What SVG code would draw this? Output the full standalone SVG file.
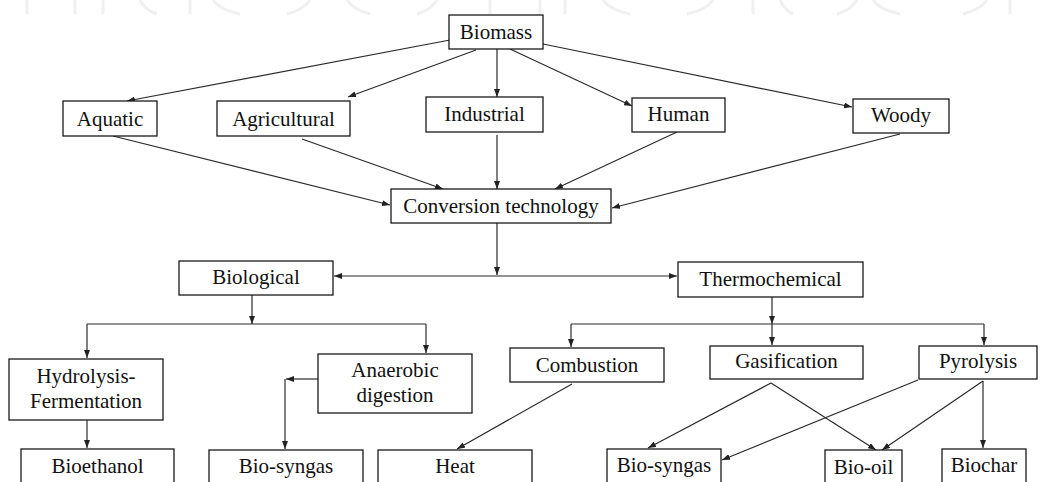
<svg xmlns="http://www.w3.org/2000/svg" width="1040" height="482" viewBox="0 0 1040 482">
<style>
.box{fill:#fff;stroke:#1a1a1a;stroke-width:1.3}
.lbl{font-size:21px;fill:#111;text-anchor:middle}
.c{fill:none;stroke:#2a2a2a;stroke-width:1.2}
.wm{fill:none;stroke:#f0f0f0;stroke-width:3}
</style>
<defs>
<marker id="ah" markerUnits="userSpaceOnUse" markerWidth="8" markerHeight="6" refX="8" refY="3" orient="auto">
<path d="M0,0 L8,3 L0,6 z" fill="#222"/>
</marker>
</defs>
<rect width="1040" height="482" fill="#fff"/>
<g id="watermark" class="wm">
<path d="M27,0V14M75,0V14M103,0V14M190,0V14M490,0V14M540,0V14M565,0V14M753,0V14M1010,0V14"/>
<path d="M140,0Q145,10 157,14M213,0Q220,10 240,14M347,0Q354,10 370,14M603,0Q610,10 630,14M780,0Q785,10 793,14M873,0Q880,10 900,14"/>
<path d="M310,0Q303,10 287,14M437,0Q431,10 417,14M713,0Q706,10 687,14M857,0Q851,10 837,14M987,0Q980,10 963,14"/>
</g>
<g id="connectors" class="c">
<path d="M450,40L127,101" marker-end="url(#ah)"/>
<path d="M476,50L348,97" marker-end="url(#ah)"/>
<path d="M497,49L497,97" marker-end="url(#ah)"/>
<path d="M510,49L632,106" marker-end="url(#ah)"/>
<path d="M543,44L852,107" marker-end="url(#ah)"/>
<path d="M113,136L390,205" marker-end="url(#ah)"/>
<path d="M302,139L443,189" marker-end="url(#ah)"/>
<path d="M497,135L497,189" marker-end="url(#ah)"/>
<path d="M677,132L555,189" marker-end="url(#ah)"/>
<path d="M900,134L612,208" marker-end="url(#ah)"/>
<path d="M497,223L497,275" marker-end="url(#ah)"/>
<path d="M497,276L334,276" marker-end="url(#ah)"/>
<path d="M497,276L677,276" marker-end="url(#ah)"/>
<path d="M252,295L252,324" marker-end="url(#ah)"/>
<path d="M87,324L426,324"/>
<path d="M87,324L87,358" marker-end="url(#ah)"/>
<path d="M426,324L426,353" marker-end="url(#ah)"/>
<path d="M87,420L87,448" marker-end="url(#ah)"/>
<path d="M318,379L286,379" marker-end="url(#ah)"/>
<path d="M285,379L285,449" marker-end="url(#ah)"/>
<path d="M572,384L457,449" marker-end="url(#ah)"/>
<path d="M772,297L772,324" marker-end="url(#ah)"/>
<path d="M571,324L984,324"/>
<path d="M571,324L571,347" marker-end="url(#ah)"/>
<path d="M772,324L772,345" marker-end="url(#ah)"/>
<path d="M984,324L984,345" marker-end="url(#ah)"/>
<path d="M771,383L648,448" marker-end="url(#ah)"/>
<path d="M771,383L876,450" marker-end="url(#ah)"/>
<path d="M918,380L722,460" marker-end="url(#ah)"/>
<path d="M983,381L882,450" marker-end="url(#ah)"/>
<path d="M983,381L983,448" marker-end="url(#ah)"/>
</g>
<g id="nodes" font-family="Liberation Serif, DejaVu Serif, serif">
<g id="biomass"><rect class="box" x="449" y="15" width="94" height="34"/><text class="lbl" x="496" y="39">Biomass</text></g>
<g id="aquatic"><rect class="box" x="63" y="101" width="94" height="35"/><text class="lbl" x="110" y="126">Aquatic</text></g>
<g id="agricultural"><rect class="box" x="217" y="101" width="133" height="35"/><text class="lbl" x="283.5" y="126">Agricultural</text></g>
<g id="industrial"><rect class="box" x="426" y="97" width="117" height="35"/><text class="lbl" x="484.5" y="121">Industrial</text></g>
<g id="human"><rect class="box" x="632" y="98" width="93" height="34"/><text class="lbl" x="678.5" y="121">Human</text></g>
<g id="woody"><rect class="box" x="853" y="99" width="96" height="34"/><text class="lbl" x="901" y="122">Woody</text></g>
<g id="conversion"><rect class="box" x="391" y="189" width="220" height="34"/><text class="lbl" x="501" y="213">Conversion technology</text></g>
<g id="biological"><rect class="box" x="179" y="261" width="154" height="34"/><text class="lbl" x="256" y="284">Biological</text></g>
<g id="thermochemical"><rect class="box" x="678" y="262" width="185" height="35"/><text class="lbl" x="770.5" y="286">Thermochemical</text></g>
<g id="hydrolysis"><rect class="box" x="9" y="359" width="154" height="61"/><text class="lbl" x="86" y="383">Hydrolysis-</text><text class="lbl" x="86" y="408">Fermentation</text></g>
<g id="anaerobic"><rect class="box" x="318" y="354" width="154" height="59"/><text class="lbl" x="395" y="377">Anaerobic</text><text class="lbl" x="395" y="402">digestion</text></g>
<g id="combustion"><rect class="box" x="510" y="348" width="154" height="34"/><text class="lbl" x="587" y="372">Combustion</text></g>
<g id="gasification"><rect class="box" x="710" y="346" width="153" height="33"/><text class="lbl" x="786.5" y="368">Gasification</text></g>
<g id="pyrolysis"><rect class="box" x="919" y="346" width="118" height="33"/><text class="lbl" x="978" y="368">Pyrolysis</text></g>
<g id="bioethanol"><rect class="box" x="21" y="449" width="153" height="50"/><text class="lbl" x="97.5" y="473">Bioethanol</text></g>
<g id="biosyngas1"><rect class="box" x="209" y="450" width="154" height="50"/><text class="lbl" x="286" y="473">Bio-syngas</text></g>
<g id="heat"><rect class="box" x="378" y="450" width="154" height="50"/><text class="lbl" x="455" y="473">Heat</text></g>
<g id="biosyngas2"><rect class="box" x="607" y="449" width="114" height="50"/><text class="lbl" x="664" y="472">Bio-syngas</text></g>
<g id="biooil"><rect class="box" x="825" y="450" width="77" height="50"/><text class="lbl" x="863.5" y="474">Bio-oil</text></g>
<g id="biochar"><rect class="box" x="942" y="449" width="84" height="50"/><text class="lbl" x="984" y="472">Biochar</text></g>
</g>
</svg>
